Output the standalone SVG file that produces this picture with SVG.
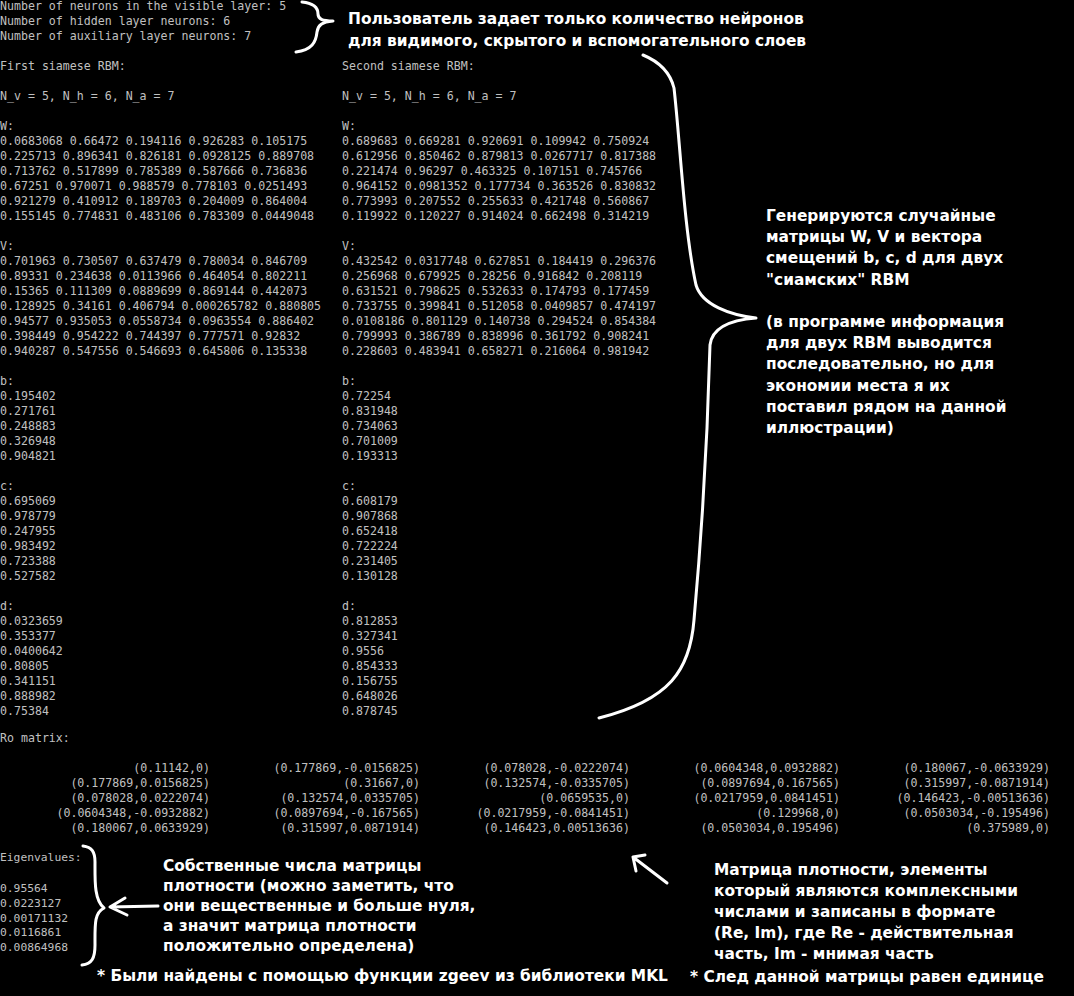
<svg xmlns="http://www.w3.org/2000/svg" width="1074" height="996" viewBox="0 0 1074 996">
<style>
.c{font-family:"DejaVu Sans Mono","Liberation Mono",monospace;font-size:11.6px;fill:#c0c0c0;white-space:pre}
.e{font-family:"DejaVu Sans Mono","Liberation Mono",monospace;font-size:11.3px;fill:#c0c0c0;white-space:pre}
.m{text-anchor:end}
.a{font-family:"DejaVu Sans","Noto Sans",sans-serif;font-size:15.4px;font-weight:bold;fill:#ffffff}
.s{fill:none;stroke:#ffffff;stroke-width:3;stroke-linecap:round;stroke-linejoin:round}
</style>
<rect x="0" y="0" width="1074" height="996" fill="#000000"/>
<g id="console-left">
<text class="c" x="0" y="10">Number of neurons in the visible layer: 5</text>
<text class="c" x="0" y="25">Number of hidden layer neurons: 6</text>
<text class="c" x="0" y="40">Number of auxiliary layer neurons: 7</text>
<text class="c" x="0" y="70">First siamese RBM:</text>
<text class="c" x="0" y="100">N_v = 5, N_h = 6, N_a = 7</text>
<text class="c" x="0" y="130">W:</text>
<text class="c" x="0" y="145">0.0683068 0.66472 0.194116 0.926283 0.105175</text>
<text class="c" x="0" y="160">0.225713 0.896341 0.826181 0.0928125 0.889708</text>
<text class="c" x="0" y="175">0.713762 0.517899 0.785389 0.587666 0.736836</text>
<text class="c" x="0" y="190">0.67251 0.970071 0.988579 0.778103 0.0251493</text>
<text class="c" x="0" y="205">0.921279 0.410912 0.189703 0.204009 0.864004</text>
<text class="c" x="0" y="220">0.155145 0.774831 0.483106 0.783309 0.0449048</text>
<text class="c" x="0" y="250">V:</text>
<text class="c" x="0" y="265">0.701963 0.730507 0.637479 0.780034 0.846709</text>
<text class="c" x="0" y="280">0.89331 0.234638 0.0113966 0.464054 0.802211</text>
<text class="c" x="0" y="295">0.15365 0.111309 0.0889699 0.869144 0.442073</text>
<text class="c" x="0" y="310">0.128925 0.34161 0.406794 0.000265782 0.880805</text>
<text class="c" x="0" y="325">0.94577 0.935053 0.0558734 0.0963554 0.886402</text>
<text class="c" x="0" y="340">0.398449 0.954222 0.744397 0.777571 0.92832</text>
<text class="c" x="0" y="355">0.940287 0.547556 0.546693 0.645806 0.135338</text>
<text class="c" x="0" y="385">b:</text>
<text class="c" x="0" y="400">0.195402</text>
<text class="c" x="0" y="415">0.271761</text>
<text class="c" x="0" y="430">0.248883</text>
<text class="c" x="0" y="445">0.326948</text>
<text class="c" x="0" y="460">0.904821</text>
<text class="c" x="0" y="490">c:</text>
<text class="c" x="0" y="505">0.695069</text>
<text class="c" x="0" y="520">0.978779</text>
<text class="c" x="0" y="535">0.247955</text>
<text class="c" x="0" y="550">0.983492</text>
<text class="c" x="0" y="565">0.723388</text>
<text class="c" x="0" y="580">0.527582</text>
<text class="c" x="0" y="610">d:</text>
<text class="c" x="0" y="625">0.0323659</text>
<text class="c" x="0" y="640">0.353377</text>
<text class="c" x="0" y="655">0.0400642</text>
<text class="c" x="0" y="670">0.80805</text>
<text class="c" x="0" y="685">0.341151</text>
<text class="c" x="0" y="700">0.888982</text>
<text class="c" x="0" y="715">0.75384</text>
</g>
<g id="console-right">
<text class="c" x="342" y="70">Second siamese RBM:</text>
<text class="c" x="342" y="100">N_v = 5, N_h = 6, N_a = 7</text>
<text class="c" x="342" y="130">W:</text>
<text class="c" x="342" y="145">0.689683 0.669281 0.920691 0.109942 0.750924</text>
<text class="c" x="342" y="160">0.612956 0.850462 0.879813 0.0267717 0.817388</text>
<text class="c" x="342" y="175">0.221474 0.96297 0.463325 0.107151 0.745766</text>
<text class="c" x="342" y="190">0.964152 0.0981352 0.177734 0.363526 0.830832</text>
<text class="c" x="342" y="205">0.773993 0.207552 0.255633 0.421748 0.560867</text>
<text class="c" x="342" y="220">0.119922 0.120227 0.914024 0.662498 0.314219</text>
<text class="c" x="342" y="250">V:</text>
<text class="c" x="342" y="265">0.432542 0.0317748 0.627851 0.184419 0.296376</text>
<text class="c" x="342" y="280">0.256968 0.679925 0.28256 0.916842 0.208119</text>
<text class="c" x="342" y="295">0.631521 0.798625 0.532633 0.174793 0.177459</text>
<text class="c" x="342" y="310">0.733755 0.399841 0.512058 0.0409857 0.474197</text>
<text class="c" x="342" y="325">0.0108186 0.801129 0.140738 0.294524 0.854384</text>
<text class="c" x="342" y="340">0.799993 0.386789 0.838996 0.361792 0.908241</text>
<text class="c" x="342" y="355">0.228603 0.483941 0.658271 0.216064 0.981942</text>
<text class="c" x="342" y="385">b:</text>
<text class="c" x="342" y="400">0.72254</text>
<text class="c" x="342" y="415">0.831948</text>
<text class="c" x="342" y="430">0.734063</text>
<text class="c" x="342" y="445">0.701009</text>
<text class="c" x="342" y="460">0.193313</text>
<text class="c" x="342" y="490">c:</text>
<text class="c" x="342" y="505">0.608179</text>
<text class="c" x="342" y="520">0.907868</text>
<text class="c" x="342" y="535">0.652418</text>
<text class="c" x="342" y="550">0.722224</text>
<text class="c" x="342" y="565">0.231405</text>
<text class="c" x="342" y="580">0.130128</text>
<text class="c" x="342" y="610">d:</text>
<text class="c" x="342" y="625">0.812853</text>
<text class="c" x="342" y="640">0.327341</text>
<text class="c" x="342" y="655">0.9556</text>
<text class="c" x="342" y="670">0.854333</text>
<text class="c" x="342" y="685">0.156755</text>
<text class="c" x="342" y="700">0.648026</text>
<text class="c" x="342" y="715">0.878745</text>
</g>
<g id="ro-matrix">
<text class="c" x="0" y="742">Ro matrix:</text>
<text class="c m" x="210" y="772">(0.11142,0)</text>
<text class="c m" x="420" y="772">(0.177869,-0.0156825)</text>
<text class="c m" x="630" y="772">(0.078028,-0.0222074)</text>
<text class="c m" x="840" y="772">(0.0604348,0.0932882)</text>
<text class="c m" x="1050" y="772">(0.180067,-0.0633929)</text>
<text class="c m" x="210" y="787">(0.177869,0.0156825)</text>
<text class="c m" x="420" y="787">(0.31667,0)</text>
<text class="c m" x="630" y="787">(0.132574,-0.0335705)</text>
<text class="c m" x="840" y="787">(0.0897694,0.167565)</text>
<text class="c m" x="1050" y="787">(0.315997,-0.0871914)</text>
<text class="c m" x="210" y="802">(0.078028,0.0222074)</text>
<text class="c m" x="420" y="802">(0.132574,0.0335705)</text>
<text class="c m" x="630" y="802">(0.0659535,0)</text>
<text class="c m" x="840" y="802">(0.0217959,0.0841451)</text>
<text class="c m" x="1050" y="802">(0.146423,-0.00513636)</text>
<text class="c m" x="210" y="817">(0.0604348,-0.0932882)</text>
<text class="c m" x="420" y="817">(0.0897694,-0.167565)</text>
<text class="c m" x="630" y="817">(0.0217959,-0.0841451)</text>
<text class="c m" x="840" y="817">(0.129968,0)</text>
<text class="c m" x="1050" y="817">(0.0503034,-0.195496)</text>
<text class="c m" x="210" y="832">(0.180067,0.0633929)</text>
<text class="c m" x="420" y="832">(0.315997,0.0871914)</text>
<text class="c m" x="630" y="832">(0.146423,0.00513636)</text>
<text class="c m" x="840" y="832">(0.0503034,0.195496)</text>
<text class="c m" x="1050" y="832">(0.375989,0)</text>
</g>
<g id="eigenvalues">
<text class="e" x="0" y="861">Eigenvalues:</text>
<text class="e" x="0" y="892">0.95564</text>
<text class="e" x="0" y="906.8">0.0223127</text>
<text class="e" x="0" y="921.5">0.00171132</text>
<text class="e" x="0" y="936.2">0.0116861</text>
<text class="e" x="0" y="951">0.00864968</text>
</g>
<g id="note-input">
<text class="a" x="348" y="24">Пользователь задает только количество нейронов</text>
<text class="a" x="348" y="46">для видимого, скрытого и вспомогательного слоев</text>
</g>
<g id="note-random">
<text class="a" x="766" y="221">Генерируются случайные</text>
<text class="a" x="766" y="242.2">матрицы W, V и вектора</text>
<text class="a" x="766" y="263.4">смещений b, c, d для двух</text>
<text class="a" x="766" y="284.6">"сиамских" RBM</text>
<text class="a" x="766" y="327">(в программе информация</text>
<text class="a" x="766" y="348.2">для двух RBM выводится</text>
<text class="a" x="766" y="369.4">последовательно, но для</text>
<text class="a" x="766" y="390.6">экономии места я их</text>
<text class="a" x="766" y="411.8">поставил рядом на данной</text>
<text class="a" x="766" y="433">иллюстрации)</text>
</g>
<g id="note-eigen">
<text class="a" x="163" y="871">Собственные числа матрицы</text>
<text class="a" x="163" y="891">плотности (можно заметить, что</text>
<text class="a" x="163" y="911">они вещественные и больше нуля,</text>
<text class="a" x="163" y="931">а значит матрица плотности</text>
<text class="a" x="163" y="951">положительно определена)</text>
<text class="a" x="97" y="981">* Были найдены с помощью функции zgeev из библиотеки MKL</text>
</g>
<g id="note-matrix">
<text class="a" x="714" y="875">Матрица плотности, элементы</text>
<text class="a" x="714" y="896">который являются комплексными</text>
<text class="a" x="714" y="917">числами и записаны в формате</text>
<text class="a" x="714" y="938">(Re, Im), где Re - действительная</text>
<text class="a" x="714" y="959">часть, Im - мнимая часть</text>
<text class="a" x="690" y="982">* След данной матрицы равен единице</text>
</g>
<g id="connectors">
<path class="s" d="M302,2 C312,3 318,7 318,14 C318,19 322,21 333,21 C322,22 318,25 317,32 C316,42 312,50 296,52"/>
<path class="s" d="M643,55 C660,62 670,72 674,88 C680,140 684,230 696,285 C702,305 730,315 756,318 C730,320 712,328 710,345 C708,420 703,520 694,620 C690,670 670,700 599,718"/>
<path class="s" d="M83,846 C92,847 95,852 95,862 C95,880 94,900 104,908 C94,913 95,925 95,945 C95,958 92,964 82,965"/>
<path class="s" d="M158,906 L110,907 M110,907 L125,898 M110,907 L127,915"/>
<path class="s" d="M667,883 L633,857 M633,857 L645,855 M633,857 L636,871"/>
</g>
</svg>
